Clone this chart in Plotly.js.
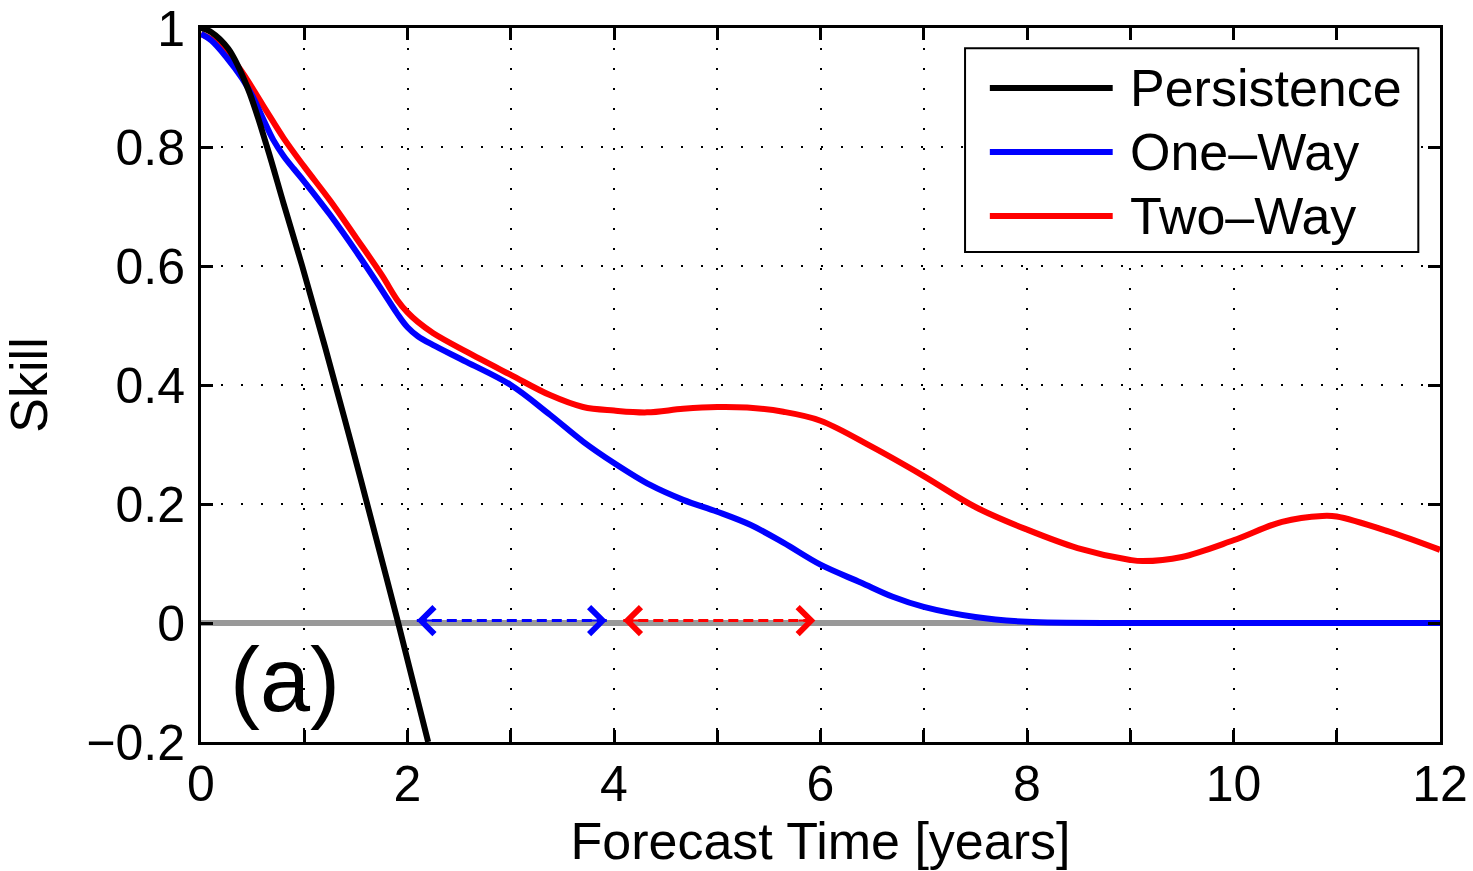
<!DOCTYPE html>
<html>
<head>
<meta charset="utf-8">
<script src="https://cdn.plot.ly/plotly-3.0.1.min.js"></script>
<style>html,body{margin:0;padding:0;background:#fff;}#chart{width:1473px;height:871px;}</style>
</head>
<body>
<div id="chart"></div>
<script>
// ---- data ----
const persistenceX = [0, 0.1, 0.265, 0.45, 0.64, 0.8, 0.98, 1.2, 1.45, 1.7, 1.91, 2.2];
const persistenceY = [1.0, 0.993, 0.965, 0.9, 0.80, 0.705, 0.60, 0.465, 0.305, 0.14, 0.0, -0.2];

const oneWayX = [0, 0.1, 0.25, 0.4, 0.5, 0.6, 0.7, 0.8, 0.9, 1.0, 1.25, 1.5, 1.75, 1.9, 2.0, 2.1, 2.25, 2.57, 3.0, 3.38, 3.7, 4.0, 4.35, 4.67, 5.0, 5.32, 5.64, 6.0, 6.39, 6.7, 7.0, 7.5, 8.0, 9.0, 10.0, 11.0, 12.0];
const oneWayY = [0.99, 0.979, 0.95, 0.915, 0.885, 0.848, 0.812, 0.785, 0.763, 0.742, 0.686, 0.625, 0.56, 0.52, 0.497, 0.482, 0.467, 0.439, 0.40, 0.35, 0.305, 0.269, 0.232, 0.207, 0.187, 0.165, 0.135, 0.098, 0.068, 0.044, 0.027, 0.01, 0.002, 0, 0, 0, 0];

const twoWayX = [0, 0.15, 0.36, 0.6, 0.8, 1.0, 1.25, 1.5, 1.75, 1.9, 2.0, 2.1, 2.25, 2.57, 3.0, 3.38, 3.7, 4.0, 4.32, 4.67, 5.0, 5.29, 5.64, 6.0, 6.5, 7.0, 7.5, 8.0, 8.49, 9.0, 9.12, 9.5, 10.0, 10.47, 10.86, 11.0, 11.5, 12.0];
const twoWayY = [0.99, 0.975, 0.935, 0.87, 0.815, 0.767, 0.71, 0.648, 0.585, 0.543, 0.522, 0.506, 0.487, 0.456, 0.417, 0.383, 0.363, 0.357, 0.354, 0.36, 0.363, 0.362, 0.355, 0.34, 0.296, 0.247, 0.195, 0.157, 0.126, 0.106, 0.104, 0.111, 0.139, 0.17, 0.18, 0.179, 0.154, 0.123];

const zeroX = [0, 12];
const zeroY = [0, 0];

const blueArrowX = [2.09, 3.93];
const redArrowX = [4.09, 5.95];
const arrowY = [0.004, 0.004];

const xTickVals = [0,1,2,3,4,5,6,7,8,9,10,11,12];
const xTickText = ['0','','2','','4','','6','','8','','10','','12'];
const yTickVals = [-0.2, 0, 0.2, 0.4, 0.6, 0.8, 1];
const yTickText = ['\u22120.2','0','0.2','0.4','0.6','0.8','1'];

const seriesNames = ['Persistence', 'One\u2013Way', 'Two\u2013Way'];
const seriesColors = ['#000000', '#0000ff', '#ff0000'];

const FONT = 'Liberation Sans, Arial, Helvetica, sans-serif';

const traces = [
  {x: zeroX, y: zeroY, mode: 'lines', line: {color: '#999999', width: 6}, showlegend: false, hoverinfo: 'skip'},
  {x: twoWayX, y: twoWayY, mode: 'lines', name: seriesNames[2], line: {color: seriesColors[2], width: 6, shape: 'spline', smoothing: 1}, showlegend: false},
  {x: oneWayX, y: oneWayY, mode: 'lines', name: seriesNames[1], line: {color: seriesColors[1], width: 6, shape: 'spline', smoothing: 1}, showlegend: false},
  {x: persistenceX, y: persistenceY, mode: 'lines', name: seriesNames[0], line: {color: seriesColors[0], width: 6, shape: 'spline', smoothing: 1}, showlegend: false},
  {x: blueArrowX, y: arrowY, mode: 'lines', line: {color: '#0000ff', width: 3, dash: '10px,5px'}, showlegend: false, hoverinfo: 'skip'},
  {x: redArrowX, y: arrowY, mode: 'lines', line: {color: '#ff0000', width: 3, dash: '10px,5px'}, showlegend: false, hoverinfo: 'skip'}
];

function head(x, y, dir, color) {
  return {x: x, y: y, xref: 'x', yref: 'y', text: '', showarrow: true,
    ax: -dir * 18, ay: 0, arrowhead: 4, arrowsize: 2.6, arrowwidth: 2, arrowcolor: color};
}

const annotations = [
  head(blueArrowX[0], arrowY[0], -1, '#0000ff'),
  head(blueArrowX[1], arrowY[1], 1, '#0000ff'),
  head(redArrowX[0], arrowY[0], -1, '#ff0000'),
  head(redArrowX[1], arrowY[1], 1, '#ff0000'),
  {x: 0.81, y: -0.096, xref: 'x', yref: 'y', text: '(a)', showarrow: false,
   font: {family: FONT, size: 90, color: '#000'}, xanchor: 'center', yanchor: 'middle'}
];

// custom legend (long line samples as in the reference)
const legX0 = 7.40, legX1 = 11.79, legY0 = 0.6235, legY1 = 0.966;
const legRowY = [0.899, 0.7916, 0.684];
const shapes = [
  {type: 'rect', xref: 'x', yref: 'y', x0: legX0, x1: legX1, y0: legY0, y1: legY1,
   line: {color: '#000', width: 2}, fillcolor: '#fff', layer: 'above'}
];
for (let i = 0; i < 3; i++) {
  shapes.push({type: 'line', xref: 'x', yref: 'y', x0: 7.64, x1: 8.83, y0: legRowY[i], y1: legRowY[i],
    line: {color: seriesColors[i], width: 6}, layer: 'above'});
  annotations.push({x: 8.98, y: legRowY[i], xref: 'x', yref: 'y', text: seriesNames[i], showarrow: false,
    xanchor: 'left', yanchor: 'middle', font: {family: FONT, size: 52, color: '#000'}});
}

const axisCommon = {
  showline: true, linecolor: '#000', linewidth: 3, mirror: 'ticks',
  ticks: 'inside', ticklen: 12, tickwidth: 3, tickcolor: '#000',
  showgrid: true, gridcolor: '#000', gridwidth: 2, griddash: '2px,18px',
  zeroline: false, tickfont: {family: FONT, size: 50, color: '#000'}
};

const layout = {
  width: 1473, height: 871,
  margin: {l: 201, r: 33, t: 28, b: 129},
  paper_bgcolor: '#fff', plot_bgcolor: '#fff',
  font: {family: FONT, color: '#000'},
  showlegend: false,
  xaxis: Object.assign({}, axisCommon, {
    range: [0, 12], tickmode: 'array', tickvals: xTickVals, ticktext: xTickText,
    ticklabelstandoff: -4,
    title: {text: 'Forecast Time [years]', font: {family: FONT, size: 52, color: '#000'}, standoff: 4}
  }),
  yaxis: Object.assign({}, axisCommon, {
    range: [-0.2, 1], tickmode: 'array', tickvals: yTickVals, ticktext: yTickText,
    ticklabelstandoff: 3,
    title: {text: 'Skill', font: {family: FONT, size: 52, color: '#000'}, standoff: 23}
  }),
  shapes: shapes,
  annotations: annotations
};

Plotly.newPlot('chart', traces, layout, {staticPlot: true, displayModeBar: false});
</script>
</body>
</html>
